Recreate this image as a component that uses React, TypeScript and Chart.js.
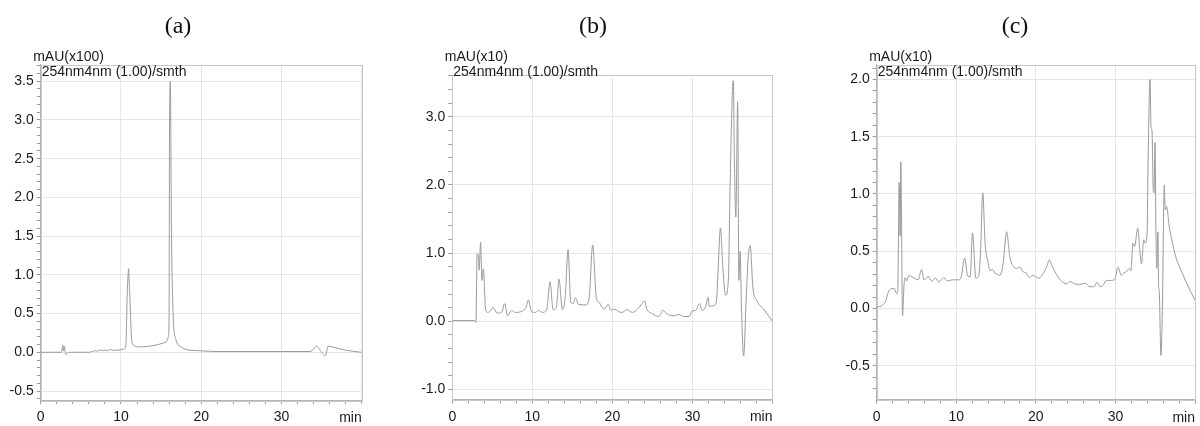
import React, { useEffect, useRef } from "react";
import { Chart, registerables } from "chart.js";

Chart.register(...registerables);

// ---------- data ----------
const panelTitles = ["(a)", "(b)", "(c)"];
const unitLabels = ["mAU(x100)", "mAU(x10)", "mAU(x10)"];
const channelLabel = "254nm4nm (1.00)/smth";
const xEndLabel = "min";

const aTime = [0, 2.6, 2.75, 2.85, 2.95, 3.05, 3.2, 3.3, 3.6, 6.0, 6.8, 7.1, 7.4, 7.7, 8.0, 8.3, 8.6, 9.0, 9.8, 10.3, 10.6, 10.8, 10.96, 11.05, 11.12, 11.3, 11.55, 12.4, 14.0, 15.3, 15.7, 15.9, 16.0, 16.05, 16.15, 16.3, 16.5, 16.86, 17.36, 18.2, 19.8, 22, 30, 33.6, 34.4, 35.0, 35.5, 35.8, 36.5, 38.1, 40];
const aValue = [0, 0, 0.09, 0.02, 0.08, 0.0, -0.03, -0.01, 0, 0.0, 0.02, 0.015, 0.03, 0.02, 0.03, 0.02, 0.035, 0.025, 0.03, 0.04, 0.08, 0.8, 1.08, 0.85, 0.7, 0.2, 0.09, 0.07, 0.085, 0.12, 0.14, 0.2, 0.5, 2.8, 3.5, 1.5, 0.5, 0.16, 0.08, 0.035, 0.02, 0.01, 0.01, 0.01, 0.08, 0.0, -0.045, 0.08, 0.065, 0.025, 0.0];

const bTime = [0, 2.8, 2.95, 3.1, 3.25, 3.35, 3.54, 3.7, 3.88, 4.17, 4.5, 5.1, 5.6, 6.2, 6.54, 6.9, 7.4, 7.9, 8.75, 9.2, 9.5, 9.9, 10.4, 10.75, 11.25, 11.8, 12.2, 12.6, 13.0, 13.33, 13.75, 14.1, 14.46, 14.8, 15.1, 15.4, 15.75, 16.7, 17.1, 17.54, 18.0, 18.3, 18.96, 19.5, 19.8, 20.2, 20.8, 21.2, 21.8, 22.5, 23.3, 23.6, 24.0, 24.3, 25.0, 25.8, 26.3, 26.8, 27.7, 28.3, 28.9, 29.6, 29.95, 30.4, 30.9, 31.2, 31.6, 31.96, 32.1, 32.7, 33.0, 33.2, 33.5, 33.8, 34.15, 34.5, 34.7, 35.1, 35.25, 35.42, 35.65, 35.8, 35.96, 36.09, 36.4, 36.7, 37.0, 37.21, 37.55, 38.05, 38.88, 40];
const bValue = [0.01, 0.01, -0.015, 0.99, 0.98, 0.75, 1.16, 0.6, 0.77, 0.16, 0.13, 0.2, 0.12, 0.14, 0.26, 0.08, 0.16, 0.13, 0.15, 0.2, 0.31, 0.14, 0.13, 0.16, 0.13, 0.18, 0.58, 0.17, 0.2, 0.62, 0.17, 0.35, 1.05, 0.28, 0.26, 0.35, 0.25, 0.24, 0.35, 1.12, 0.33, 0.28, 0.18, 0.25, 0.16, 0.18, 0.14, 0.13, 0.17, 0.13, 0.2, 0.245, 0.3, 0.18, 0.11, 0.07, 0.16, 0.11, 0.08, 0.1, 0.07, 0.07, 0.15, 0.16, 0.26, 0.16, 0.2, 0.35, 0.22, 0.23, 0.3, 0.74, 1.37, 0.79, 0.38, 0.65, 1.97, 3.53, 2.3, 1.53, 3.22, 0.6, 1.03, 0.35, -0.51, 0.3, 0.99, 1.11, 0.5, 0.3, 0.18, 0.0];

const cTime = [0, 0.75, 1.1, 1.58, 2.2, 2.5, 2.65, 2.82, 2.95, 3.03, 3.12, 3.24, 3.45, 3.6, 3.74, 4.07, 4.3, 4.7, 5.2, 5.65, 5.94, 6.48, 6.9, 7.4, 7.8, 8.43, 8.85, 9.47, 10.3, 10.63, 11.05, 11.46, 11.75, 12.04, 12.46, 12.8, 13.04, 13.33, 13.62, 13.95, 14.24, 14.5, 14.87, 15.5, 15.9, 16.32, 16.74, 17.15, 17.57, 17.98, 18.4, 18.8, 19.2, 19.6, 20.35, 20.77, 21.4, 21.68, 22.0, 22.4, 23.05, 23.88, 24.3, 24.9, 25.5, 26.16, 26.8, 27.29, 27.7, 28.05, 28.45, 28.78, 29.28, 29.9, 30.32, 30.74, 31.05, 31.36, 31.78, 31.95, 32.2, 32.4, 32.81, 33.1, 33.27, 33.56, 33.75, 33.98, 34.1, 34.35, 34.47, 34.6, 34.75, 34.85, 34.97, 35.1, 35.2, 35.34, 35.43, 35.5, 35.72, 35.93, 36.06, 36.14, 36.26, 36.43, 36.76, 37.17, 37.59, 38.21, 38.83, 39.45, 40];
const cValue = [0.01, 0.03, 0.06, 0.16, 0.175, 0.13, 0.16, 1.1, 0.63, 1.28, 0.8, -0.065, 0.22, 0.27, 0.24, 0.29, 0.28, 0.265, 0.25, 0.34, 0.25, 0.28, 0.24, 0.265, 0.23, 0.27, 0.24, 0.25, 0.25, 0.28, 0.44, 0.28, 0.28, 0.66, 0.265, 0.28, 0.48, 1.01, 0.57, 0.42, 0.33, 0.34, 0.31, 0.29, 0.4, 0.67, 0.45, 0.37, 0.35, 0.36, 0.32, 0.31, 0.27, 0.29, 0.265, 0.29, 0.37, 0.425, 0.38, 0.32, 0.25, 0.215, 0.235, 0.215, 0.21, 0.22, 0.19, 0.19, 0.23, 0.19, 0.2, 0.24, 0.245, 0.25, 0.36, 0.29, 0.31, 0.32, 0.35, 0.33, 0.57, 0.54, 0.7, 0.48, 0.39, 0.6, 0.57, 0.66, 1.27, 2.0, 1.59, 1.55, 1.04, 1.01, 1.45, 0.63, 0.35, 0.67, 0.19, 0.16, -0.41, 0.13, 0.86, 1.08, 0.86, 0.89, 0.72, 0.57, 0.45, 0.34, 0.24, 0.15, 0.07];

// ---------- rendering ----------
const SANS = "'Liberation Sans', Arial, sans-serif";
const W = 400;
const H = 426;

type Area = { left: number; right: number; top: number; bottom: number };

interface PanelProps {
  offset: number;
  area: Area;
  time: number[];
  value: number[];
  yMin: number;
  yMax: number;
  yMinor: number;
  yMajor: number;
  unit: string;
}

const isMajor = (v: number, step: number) => Math.abs(v / step - Math.round(v / step)) < 1e-6;

function Chromatogram({ offset, area, time, value, yMin, yMax, yMinor, yMajor, unit }: PanelProps) {
  const ref = useRef<HTMLCanvasElement>(null);
  useEffect(() => {
    const frame = {
      id: "frame",
      beforeDatasetsDraw(chart: any) {
        const { ctx, chartArea } = chart;
        ctx.save();
        ctx.strokeStyle = "#c8c8c8";
        ctx.lineWidth = 1;
        ctx.strokeRect(
          Math.round(chartArea.left) + 0.5,
          Math.round(chartArea.top) + 0.5,
          Math.round(chartArea.right - chartArea.left),
          Math.round(chartArea.bottom - chartArea.top)
        );
        ctx.restore();
      },
      afterDraw(chart: any) {
        const { ctx, chartArea } = chart;
        ctx.save();
        ctx.fillStyle = "#1a1a1a";
        ctx.font = `14px ${SANS}`;
        ctx.textBaseline = "middle";
        ctx.textAlign = "left";
        ctx.fillText(unit, chartArea.left - 7.5, 57);
        ctx.fillText(channelLabel, chartArea.left + 1, 72);
        ctx.textAlign = "right";
        ctx.fillText(xEndLabel, chartArea.right, chartArea.bottom + 18);
        ctx.restore();
      },
    };

    const chart = new Chart(ref.current as HTMLCanvasElement, {
      type: "line",
      data: {
        datasets: [
          {
            data: time.map((t, i) => ({ x: t, y: value[i] })),
            borderColor: "#9a9a9a",
            borderWidth: 1,
            pointRadius: 0,
            cubicInterpolationMode: "monotone",
            fill: false,
          },
        ],
      },
      options: {
        responsive: false,
        maintainAspectRatio: false,
        animation: false,
        layout: { padding: { left: area.left - 40, top: area.top, right: W - area.right, bottom: 0 } },
        plugins: { legend: { display: false }, tooltip: { enabled: false } },
        scales: {
          x: {
            type: "linear",
            min: 0,
            max: 40,
            afterFit: (s: any) => {
              s.height = H - area.bottom;
            },
            ticks: {
              stepSize: 2,
              autoSkip: false,
              maxRotation: 0,
              padding: 5,
              color: "#1a1a1a",
              font: { family: SANS, size: 14 },
              callback: (v: any) => (isMajor(Number(v), 10) && Number(v) < 40 ? String(v) : ""),
            },
            grid: {
              color: (c: any) => (c.tick && isMajor(c.tick.value, 10) ? "#e6e6e6" : "rgba(0,0,0,0)"),
              tickColor: "#9a9a9a",
              tickLength: 4,
            },
            border: { color: "#b4b4b4" },
          },
          y: {
            type: "linear",
            min: yMin,
            max: yMax,
            afterFit: (s: any) => {
              s.width = 40;
            },
            ticks: {
              stepSize: yMinor,
              autoSkip: false,
              includeBounds: false,
              padding: 3,
              color: "#1a1a1a",
              font: { family: SANS, size: 14 },
              callback: (v: any) => (isMajor(Number(v), yMajor) ? Number(v).toFixed(1) : ""),
            },
            grid: {
              color: (c: any) => (c.tick && isMajor(c.tick.value, yMajor) ? "#e6e6e6" : "rgba(0,0,0,0)"),
              tickColor: "#9a9a9a",
              tickLength: 4,
            },
            border: { color: "#b4b4b4" },
          },
        },
      },
      plugins: [frame],
    } as any);
    return () => chart.destroy();
  }, []);
  return (
    <canvas
      ref={ref}
      width={W}
      height={H}
      style={{ position: "absolute", left: offset, top: 0, width: W, height: H }}
    />
  );
}

const titleCenters = [178, 593, 1015];

export default function App() {
  return (
    <div style={{ position: "absolute", left: 0, top: 0, width: 1200, height: 426, background: "#fff", overflow: "hidden" }}>
      <Chromatogram offset={0} area={{ left: 40.7, right: 361.7, top: 64.5, bottom: 400 }} time={aTime} value={aValue} yMin={-0.616} yMax={3.716} yMinor={0.1} yMajor={0.5} unit={unitLabels[0]} />
      <Chromatogram offset={400} area={{ left: 52.3, right: 372.5, top: 75, bottom: 399.5 }} time={bTime} value={bValue} yMin={-1.147} yMax={3.612} yMinor={0.2} yMajor={1.0} unit={unitLabels[1]} />
      <Chromatogram offset={800} area={{ left: 76.7, right: 397.7, top: 64.5, bottom: 399.7 }} time={cTime} value={cValue} yMin={-0.797} yMax={2.131} yMinor={0.1} yMajor={0.5} unit={unitLabels[2]} />
      {panelTitles.map((t, i) => (
        <div
          key={t}
          style={{
            position: "absolute",
            left: titleCenters[i] - 50,
            top: 11,
            width: 100,
            textAlign: "center",
            fontFamily: "'Liberation Serif', 'Times New Roman', serif",
            fontSize: 24,
            lineHeight: "28px",
            color: "#111",
          }}
        >
          {t}
        </div>
      ))}
    </div>
  );
}
